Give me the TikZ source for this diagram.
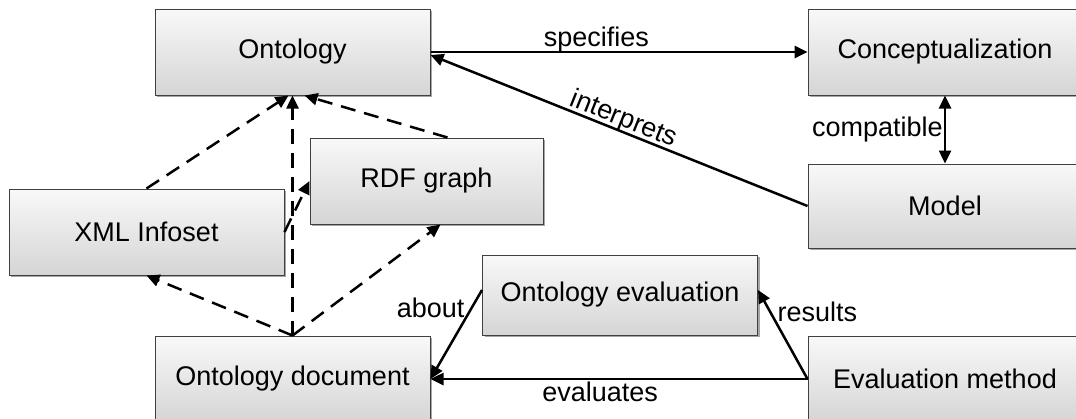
\documentclass[tikz,border=0pt]{standalone}
\usepackage{fontspec}
\setmainfont{Liberation Sans}
\usetikzlibrary{arrows.meta,shadows}
\begin{document}
\begin{tikzpicture}[x=1pt,y=-1pt,
  box/.style={draw=black!75, line width=1pt, top color=gray!5, bottom color=gray!33,
    drop shadow={shadow xshift=2pt, shadow yshift=-2pt, opacity=0.35, fill=black},
    inner sep=0pt, font=\fontsize{27}{31}\selectfont, text=black},
  lbl/.style={font=\fontsize{27}{31}\selectfont, inner sep=2pt, text=black},
  tip/.tip={Triangle[length=13pt,width=12pt]},
  con/.style={line width=2.5pt, -tip},
  dcon/.style={con, dash pattern=on 15pt off 9pt}]
\useasboundingbox (0,0) rectangle (1076,418);
\clip (0,0) rectangle (1076,418);
% boxes
\node[box, minimum width=275pt, minimum height=86pt] (ont) at (292.5,52) {Ontology};
\node[box, minimum width=274pt, minimum height=86pt] (conc) at (945,52) {Conceptualization};
\node[box, minimum width=233pt, minimum height=86pt] (rdf) at (426.5,181) {RDF graph};
\node[box, minimum width=275pt, minimum height=86pt] (xml) at (146.5,232) {XML Infoset};
\node[box, minimum width=274pt, minimum height=84pt] (model) at (945,206) {Model};
\node[box, minimum width=275pt, minimum height=80pt] (oeval) at (620,295) {Ontology evaluation};
\node[box, minimum width=275pt, minimum height=86pt] (odoc) at (292.5,379) {Ontology document};
\node[box, minimum width=274pt, minimum height=86pt] (emeth) at (945,379) {Evaluation method};
% solid connectors
\draw[con] (ont.east) -- (conc.west) node[lbl, pos=0.44, above=-3pt] {specifies};
\draw[con] (model.west) -- ([yshift=-3pt]ont.east) node[lbl, pos=0.5, sloped, above=-4pt] {interprets};
\draw[con, tip-tip] (conc.south) -- (model.north) node[lbl, midway, left=-1pt] {compatible};
\draw[con] ([yshift=5pt]oeval.west) -- (odoc.east) node[lbl, pos=0.2, left=4pt] {about};
\draw[con] (emeth.west) -- (odoc.east) node[lbl, pos=0.55, below=0pt] {evaluates};
\draw[con] (emeth.west) -- ([yshift=5pt]oeval.east) node[lbl, pos=0.75, right=4pt] {results};
% dashed connectors
\draw[dcon] (xml.north) -- ([xshift=-4pt]ont.south);
\draw[dcon] (odoc.north) -- (ont.south);
\draw[dcon] ([xshift=21pt]rdf.north) -- ([xshift=12pt]ont.south);
\draw[dcon] (odoc.north) -- (xml.south);
\draw[dcon] (odoc.north) -- ([xshift=14pt]rdf.south);
\draw[dcon] (xml.east) -- (rdf.west);
\end{tikzpicture}
\end{document}
